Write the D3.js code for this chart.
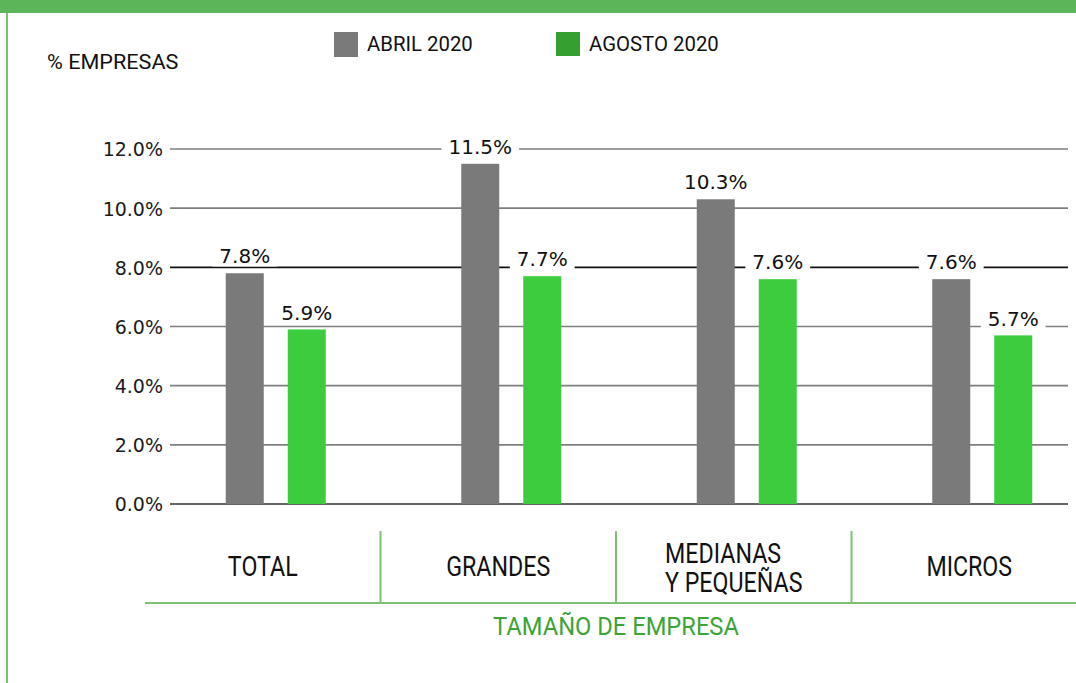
<!DOCTYPE html>
<html>
<head>
<meta charset="utf-8">
<script src="https://cdn.jsdelivr.net/npm/d3@7"></script>
<style>
  html, body { margin: 0; padding: 0; background: #fff; }
  svg { display: block; }
  .narrow { font-family: "Roboto", "Noto Sans", sans-serif; }
</style>
</head>
<body>
<svg id="chart" width="1076" height="683"></svg>
<script>
// Porcentaje de empresas por tamaño, abril vs agosto 2020
const categories = ["TOTAL", "GRANDES", "MEDIANAS|Y PEQUEÑAS", "MICROS"];
const seriesNames = ["ABRIL 2020", "AGOSTO 2020"];
const abril2020 = [7.8, 11.5, 10.3, 7.6];
const agosto2020 = [5.9, 7.7, 7.6, 5.7];
const yTicks = [0, 2, 4, 6, 8, 10, 12];
const yTickLabels = ["0.0%", "2.0%", "4.0%", "6.0%", "8.0%", "10.0%", "12.0%"];

const barColors = ["#7a7a7a", "#3ccc3e"];
const legendColors = ["#7a7a7a", "#35a02f"];
const frameGreen = "#5db55a";
const lineGreen = "#7cc170";
const titleGreen = "#3ca336";

const svg = d3.select("#chart");

// condensed-looking text: regular face squeezed horizontally
function narrowText(parent, x, y, size, sx, anchor, fill, str) {
  return parent.append("text").attr("class", "narrow")
    .attr("transform", `translate(${x},${y}) scale(${sx},1)`)
    .attr("font-size", size).attr("fill", fill)
    .attr("text-anchor", anchor).text(str);
}

// frame: top band and left rule
svg.append("rect").attr("x", 0).attr("y", 0).attr("width", 1076).attr("height", 13).attr("fill", frameGreen);
svg.append("line").attr("x1", 7).attr("x2", 7).attr("y1", 13).attr("y2", 683)
  .attr("stroke", lineGreen).attr("stroke-width", 2);

// scales
const y = d3.scaleLinear().domain([0, 12]).range([504, 149]);
const xCat = d3.scaleBand().domain(categories).range([145, 1087]);
const xSeries = d3.scaleBand().domain(seriesNames).range([-37, 63]).paddingInner(24 / 62);

// y axis: labels + gridlines
const yAxis = d3.axisLeft(y).tickValues(yTicks)
  .tickFormat((d, i) => yTickLabels[i])
  .tickSize(0).tickPadding(0);
const gAxis = svg.append("g").attr("transform", "translate(163,0)").call(yAxis);
gAxis.select(".domain").remove();
gAxis.selectAll("text").attr("font-size", 19).attr("fill", "#1a1a1a")
  .attr("font-family", "DejaVu Sans, Verdana, sans-serif").attr("dy", "0.36em");

svg.append("g").selectAll("line").data(yTicks).join("line")
  .attr("x1", 170).attr("x2", 1068)
  .attr("y1", d => y(d)).attr("y2", d => y(d))
  .attr("stroke", d => d === 8 ? "#111" : (d === 0 ? "#333" : "#7f7f7f"))
  .attr("stroke-width", 1.6);

// bars
const rows = categories.map((c, i) => ({ cat: c, values: [abril2020[i], agosto2020[i]] }));
const groups = svg.append("g").selectAll("g").data(rows).join("g")
  .attr("transform", d => `translate(${xCat(d.cat) + xCat.bandwidth() / 2},0)`);

groups.selectAll("rect").data(d => d.values.map((v, k) => ({ v, k }))).join("rect")
  .attr("x", d => xSeries(seriesNames[d.k]))
  .attr("width", xSeries.bandwidth())
  .attr("y", d => y(d.v))
  .attr("height", d => y(0) - y(d.v))
  .attr("fill", d => barColors[d.k]);

// value labels with white backing
const lab = groups.selectAll("g.val").data(d => d.values.map((v, k) => ({ v, k }))).join("g")
  .attr("class", "val")
  .attr("transform", d => `translate(${xSeries(seriesNames[d.k]) + xSeries.bandwidth() / 2},${y(d.v) - 17})`);
lab.append("rect").attr("fill", "#fff");
lab.append("text")
  .attr("text-anchor", "middle").attr("dy", "0.36em")
  .attr("font-family", "DejaVu Sans, Verdana, sans-serif").attr("font-size", 20)
  .attr("fill", "#111")
  .text(d => d.v.toFixed(1) + "%");
lab.each(function () {
  const t = d3.select(this).select("text").node().getBBox();
  d3.select(this).select("rect")
    .attr("x", t.x - 7).attr("y", t.y + 2).attr("width", t.width + 14).attr("height", t.height - 4);
});

// category area: separators, baseline, labels
svg.append("line").attr("x1", 145).attr("x2", 1076).attr("y1", 603).attr("y2", 603)
  .attr("stroke", lineGreen).attr("stroke-width", 2);
svg.append("g").selectAll("line").data(categories.slice(1)).join("line")
  .attr("x1", d => xCat(d)).attr("x2", d => xCat(d))
  .attr("y1", 531).attr("y2", 603)
  .attr("stroke", lineGreen).attr("stroke-width", 2);

const catSx = 0.86;
categories.forEach(c => {
  const lines = c.split("|");
  const cx = xCat(c) + xCat.bandwidth() / 2;
  if (lines.length === 1) {
    narrowText(svg, cx, 576, 27, catSx, "middle", "#111", lines[0]);
  } else {
    const texts = lines.map((l, i) => narrowText(svg, cx, 563 + i * 29, 27, catSx, "start", "#111", l));
    const w = d3.max(texts, t => t.node().getComputedTextLength()) * catSx;
    texts.forEach((t, i) => t.attr("transform", `translate(${cx - w / 2},${563 + i * 29}) scale(${catSx},1)`));
  }
});

narrowText(svg, 616, 635, 25.5, 0.93, "middle", titleGreen, "TAMAÑO DE EMPRESA");

// y title
narrowText(svg, 47, 69, 21, 1.03, "start", "#111", "% EMPRESAS");

// legend
const legX = [334, 556];
seriesNames.forEach((s, i) => {
  const g = svg.append("g").attr("transform", `translate(${legX[i]},32)`);
  g.append("rect").attr("width", 24).attr("height", 25 - i).attr("fill", legendColors[i]);
  narrowText(g, 33, 19, 21, 0.97, "start", "#111", s);
});
</script>
</body>
</html>
